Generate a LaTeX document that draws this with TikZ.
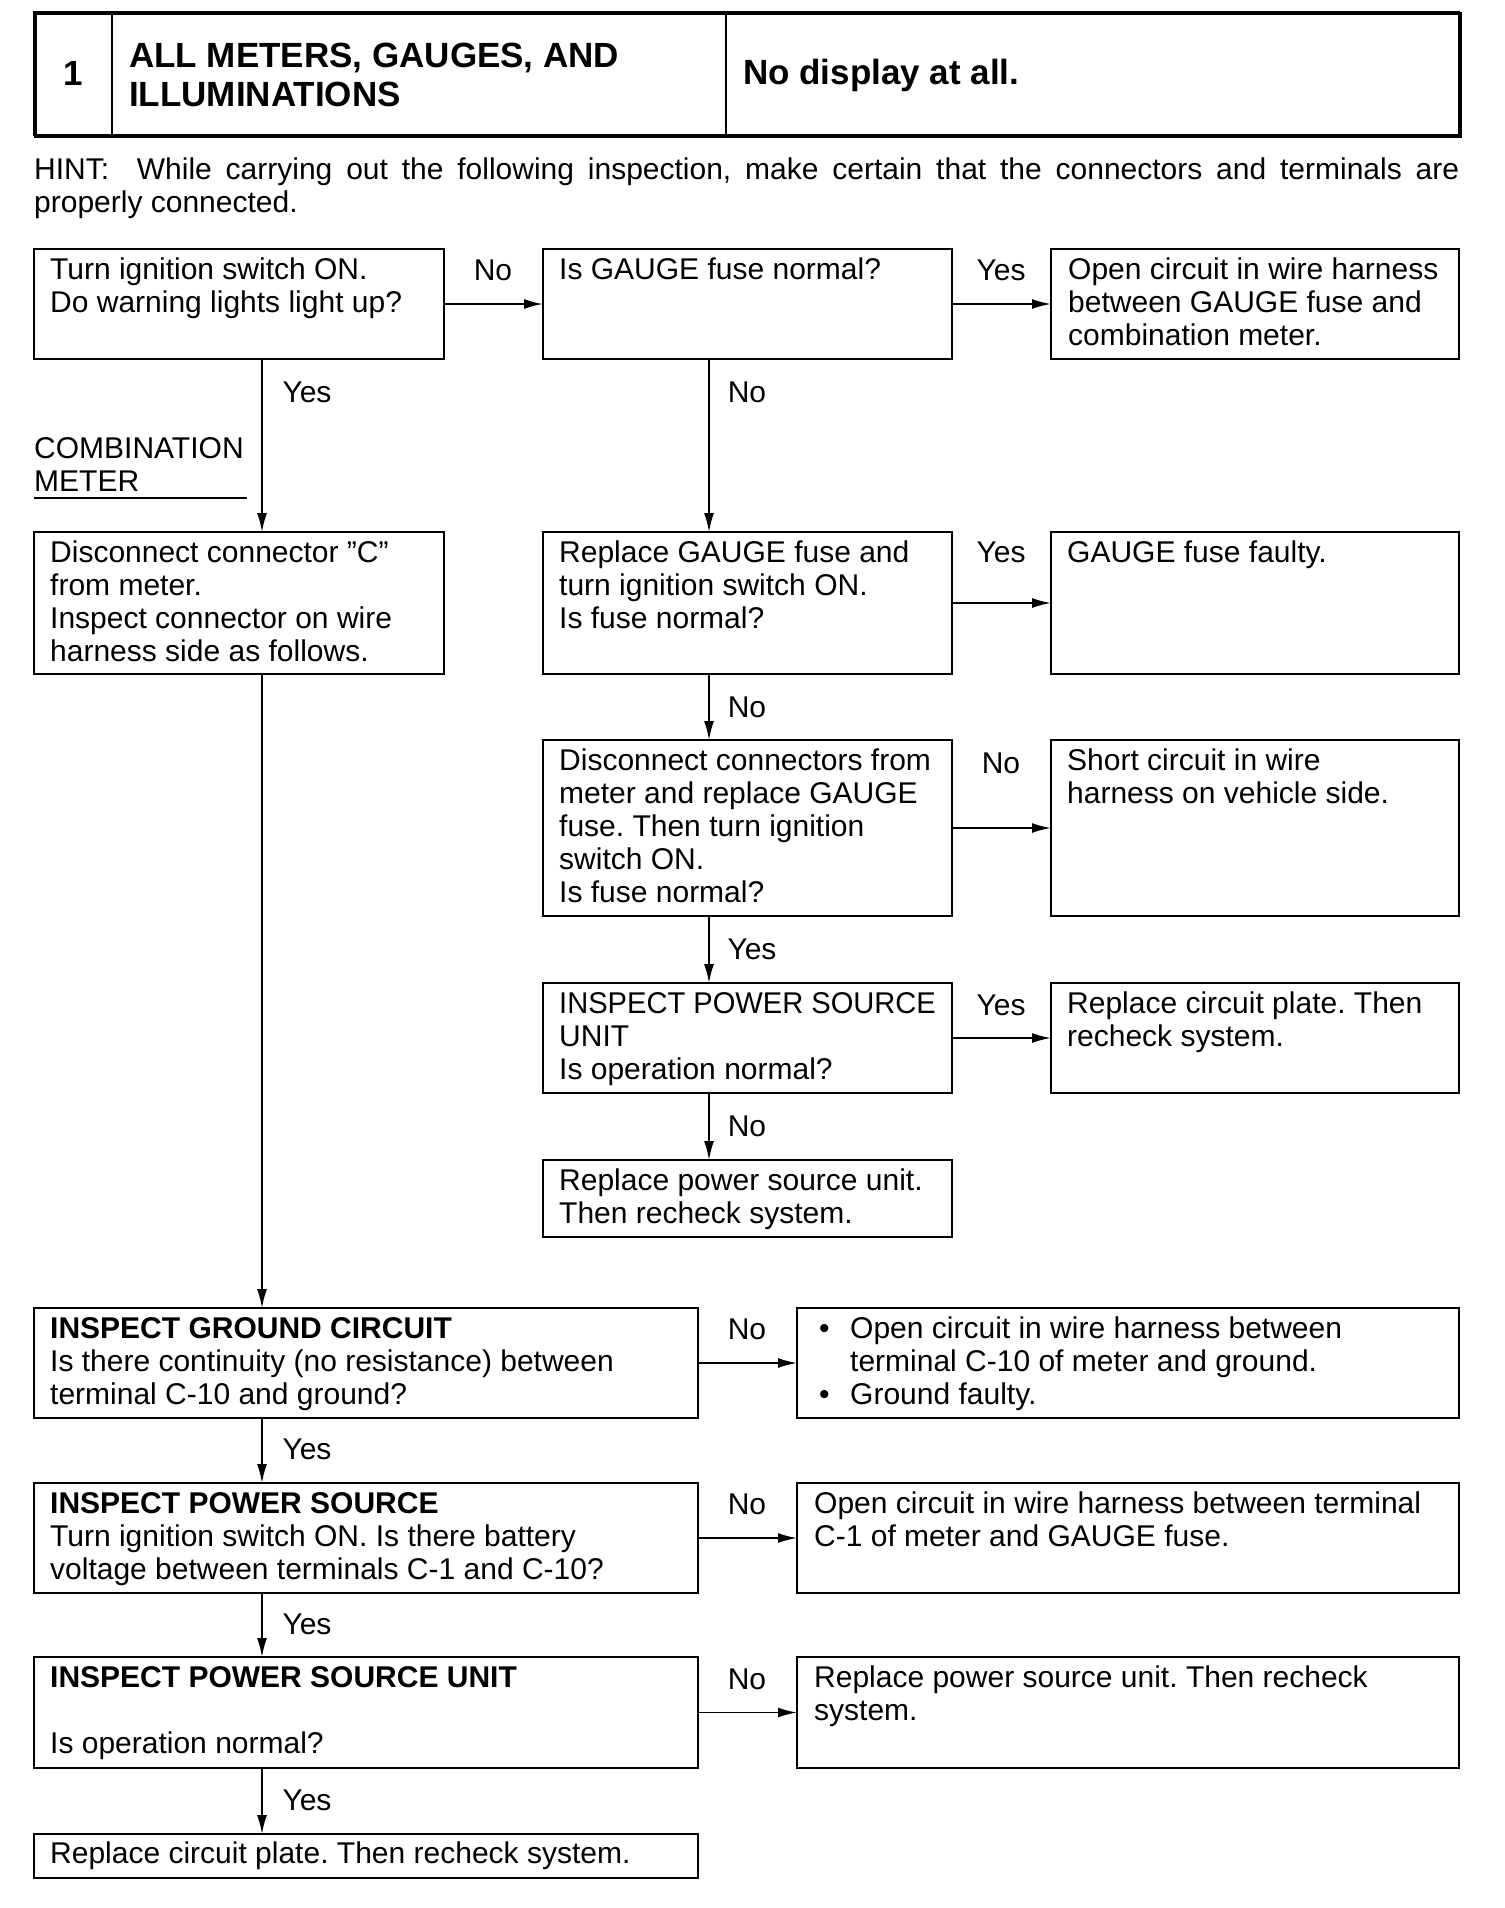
\documentclass[tikz,border=0pt]{standalone}
\usepackage{fontspec}
\setmainfont{Liberation Sans}
\usetikzlibrary{arrows.meta}
\begin{document}
\frenchspacing
\begin{tikzpicture}[x=1pt,y=-1pt,
  bx/.style={draw, line width=2.2pt, anchor=north west, inner sep=0pt, outer sep=0pt},
  hcell/.style={draw, line width=1.4pt, anchor=north west, inner sep=0pt, outer sep=0pt},
  txt/.style={anchor=north west, inner sep=0pt, align=left, font=\fontsize{30}{33}\selectfont},
  lbl/.style={inner sep=0pt, font=\fontsize{30}{33}\selectfont},
  hfont/.style={font=\fontsize{35}{39}\selectfont\bfseries},
  arr/.style={line width=1.8pt, -{Latex[length=19pt,width=10pt]}}]
\useasboundingbox (0,0) rectangle (1504,1908);
% header
\node[hcell, minimum width=78, minimum height=123] (h1) at (34,12) {};
\node[hcell, minimum width=614, minimum height=123] (h2) at (112,12) {};
\node[hcell, minimum width=733, minimum height=123] (h3) at (726,12) {};
\node[draw, line width=2.6pt, anchor=north west, inner sep=0pt, minimum width=1425, minimum height=123] (hd) at (34,12) {};
\node[hfont, inner sep=0pt] (hn) at (h1.center) {1};
\node[hfont, anchor=west, align=left, inner sep=0pt] (ht) at (129,75) {ALL METERS, GAUGES, AND\\ILLUMINATIONS};
\node[hfont, anchor=west, inner sep=0pt] (hs) at (743,75) {No display at all.};
% hint
\node[txt] (hint) at (34,158)
  {\makebox[1425pt][s]{HINT:\ \ While carrying out the following inspection, make certain that the connectors and terminals are}\\properly connected.};
% boxes
\node[bx, minimum width=410, minimum height=110] (b1) at (34,249) {};
\node[bx, minimum width=409, minimum height=110] (b2) at (543,249) {};
\node[bx, minimum width=408, minimum height=110] (b3) at (1051,249) {};
\node[bx, minimum width=410, minimum height=142] (b4) at (34,532) {};
\node[bx, minimum width=409, minimum height=142] (b5) at (543,532) {};
\node[bx, minimum width=408, minimum height=142] (b6) at (1051,532) {};
\node[bx, minimum width=409, minimum height=176] (b7) at (543,740) {};
\node[bx, minimum width=408, minimum height=176] (b8) at (1051,740) {};
\node[bx, minimum width=409, minimum height=110] (b9) at (543,983) {};
\node[bx, minimum width=408, minimum height=110] (b10) at (1051,983) {};
\node[bx, minimum width=409, minimum height=77] (b11) at (543,1160) {};
\node[bx, minimum width=664, minimum height=110] (b12) at (34,1308) {};
\node[bx, minimum width=662, minimum height=110] (b13) at (797,1308) {};
\node[bx, minimum width=664, minimum height=110] (b14) at (34,1483) {};
\node[bx, minimum width=662, minimum height=110] (b15) at (797,1483) {};
\node[bx, minimum width=664, minimum height=111] (b16) at (34,1657) {};
\node[bx, minimum width=662, minimum height=111] (b17) at (797,1657) {};
\node[bx, minimum width=664, minimum height=44] (b18) at (34,1834) {};
% texts
\node[txt] (t1) at ([xshift=16pt,yshift=-9pt]b1.north west) {Turn ignition switch ON.\\Do warning lights light up?};
\node[txt] (t2) at ([xshift=16pt,yshift=-9pt]b2.north west) {Is GAUGE fuse normal?};
\node[txt] (t3) at ([xshift=17pt,yshift=-9pt]b3.north west) {Open circuit in wire harness\\between GAUGE fuse and\\combination meter.};
\node[txt] (t4) at ([xshift=16pt,yshift=-9pt]b4.north west) {Disconnect connector ''C''\\from meter.\\Inspect connector on wire\\harness side as follows.};
\node[txt] (t5) at ([xshift=16pt,yshift=-9pt]b5.north west) {Replace GAUGE fuse and\\turn ignition switch ON.\\Is fuse normal?};
\node[txt] (t6) at ([xshift=16pt,yshift=-9pt]b6.north west) {GAUGE fuse faulty.};
\node[txt] (t7) at ([xshift=16pt,yshift=-9pt]b7.north west) {Disconnect connectors from\\meter and replace GAUGE\\fuse. Then turn ignition\\switch ON.\\Is fuse normal?};
\node[txt] (t8) at ([xshift=16pt,yshift=-9pt]b8.north west) {Short circuit in wire\\harness on vehicle side.};
\node[txt] (t9) at ([xshift=16pt,yshift=-9pt]b9.north west) {\scalebox{0.97}[1]{INSPECT POWER SOURCE}\\UNIT\\Is operation normal?};
\node[txt] (t10) at ([xshift=16pt,yshift=-9pt]b10.north west) {Replace circuit plate. Then\\recheck system.};
\node[txt] (t11) at ([xshift=16pt,yshift=-9pt]b11.north west) {Replace power source unit.\\Then recheck system.};
\node[txt] (t12) at ([xshift=16pt,yshift=-9pt]b12.north west) {\textbf{INSPECT GROUND CIRCUIT}\\Is there continuity (no resistance) between\\terminal C-10 and ground?};
\node[txt] (t13) at ([xshift=22pt,yshift=-9pt]b13.north west) {\makebox[31pt][l]{\textbullet}Open circuit in wire harness between\\\hspace*{31pt}terminal C-10 of meter and ground.\\\makebox[31pt][l]{\textbullet}Ground faulty.};
\node[txt] (t14) at ([xshift=16pt,yshift=-9pt]b14.north west) {\textbf{INSPECT POWER SOURCE}\\Turn ignition switch ON. Is there battery\\voltage between terminals C-1 and C-10?};
\node[txt] (t15) at ([xshift=17pt,yshift=-9pt]b15.north west) {Open circuit in wire harness between terminal\\C-1 of meter and GAUGE fuse.};
\node[txt] (t16) at ([xshift=16pt,yshift=-9pt]b16.north west) {\textbf{INSPECT POWER SOURCE UNIT}\\[33pt]Is operation normal?};
\node[txt] (t17) at ([xshift=17pt,yshift=-9pt]b17.north west) {Replace power source unit. Then recheck\\system.};
\node[txt, anchor=west] (t18) at ([xshift=16pt]b18.west) {Replace circuit plate. Then recheck system.};
% combination meter
\node[txt] (cm) at (34,437) {COMBINATION\\METER};
\coordinate (u1) at (34,498);
\coordinate (u2) at (247,498);
\draw[line width=1.4pt] (u1) -- (u2);
% columns
\coordinate (c1) at (262,0);
\coordinate (c2) at (709,0);
% connectors
\draw[arr] (b1.east) -- (b2.west);
\draw[arr] (b2.east) -- (b3.west);
\draw[arr] (b5.east) -- (b6.west);
\draw[arr] (b7.east) -- (b8.west);
\draw[arr] (b9.east) -- (b10.west);
\draw[arr] (b12.east) -- (b13.west);
\draw[arr] (b14.east) -- (b15.west);
\draw[arr] (b16.east) -- (b17.west);
\draw[arr] (b1.south -| c1) -- (b4.north -| c1);
\draw[arr] (b4.south -| c1) -- (b12.north -| c1);
\draw[arr] (b12.south -| c1) -- (b14.north -| c1);
\draw[arr] (b14.south -| c1) -- (b16.north -| c1);
\draw[arr] (b16.south -| c1) -- (b18.north -| c1);
\draw[arr] (b2.south -| c2) -- (b5.north -| c2);
\draw[arr] (b5.south -| c2) -- (b7.north -| c2);
\draw[arr] (b7.south -| c2) -- (b9.north -| c2);
\draw[arr] (b9.south -| c2) -- (b11.north -| c2);
% labels
\node[lbl] (l1) at (493,270) {No};
\node[lbl] (l2) at (1001,270) {Yes};
\node[lbl] (l3) at (307,392) {Yes};
\node[lbl] (l4) at (747,392) {No};
\node[lbl] (l5) at (1001,552) {Yes};
\node[lbl] (l6) at (747,707) {No};
\node[lbl] (l7) at (1001,763) {No};
\node[lbl] (l8) at (752,949) {Yes};
\node[lbl] (l9) at (1001,1005) {Yes};
\node[lbl] (l10) at (747,1126) {No};
\node[lbl] (l11) at (747,1329) {No};
\node[lbl] (l12) at (307,1449) {Yes};
\node[lbl] (l13) at (747,1504) {No};
\node[lbl] (l14) at (307,1624) {Yes};
\node[lbl] (l15) at (747,1679) {No};
\node[lbl] (l16) at (307,1800) {Yes};
\end{tikzpicture}
\end{document}
